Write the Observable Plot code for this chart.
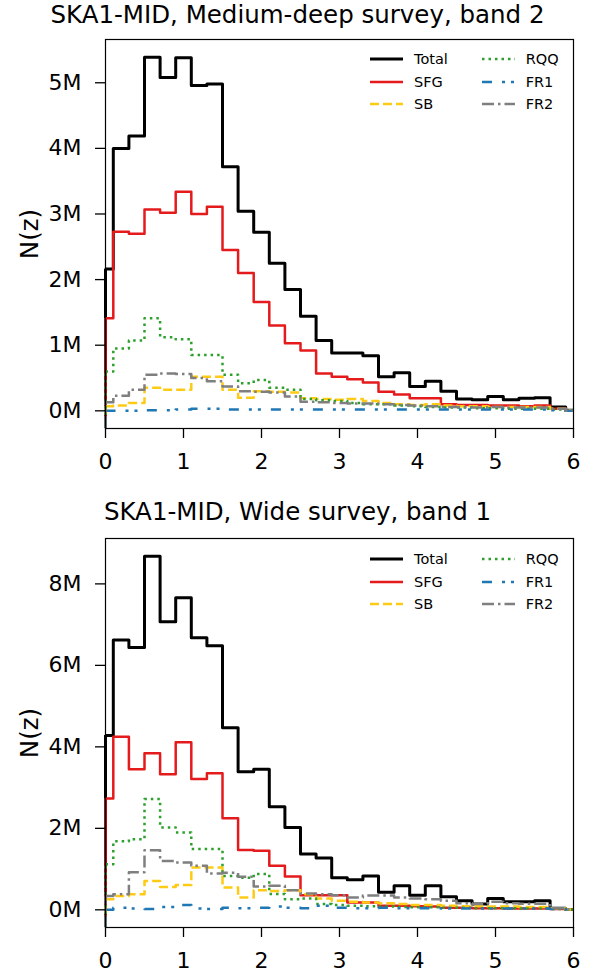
<!DOCTYPE html>
<html>
<head>
<meta charset="utf-8">
<script src="https://cdn.jsdelivr.net/npm/d3@7"></script>
<script src="https://cdn.jsdelivr.net/npm/@observablehq/plot@0.6"></script>
<style>
  html, body { margin: 0; padding: 0; background: #fff; }
  #root { position: relative; width: 595px; height: 972px; overflow: hidden; font-family: "DejaVu Sans", sans-serif; color: #000; }
  .title { position: absolute; left: 0; width: 595px; text-align: center; font-size: 24.5px; line-height: 1.2; white-space: nowrap; }
  .panel { position: absolute; left: 0; }
  .leg-line { position: absolute; }
  .leg-label { position: absolute; font-size: 14.5px; line-height: 14.5px; white-space: nowrap; }
</style>
</head>
<body>
<div id="root"></div>
<script>
// ---------- data (N(z) in millions) ----------
const z = [0, 0.2, 0.4, 0.6, 0.8, 1.0, 1.2, 1.4, 1.6, 1.8, 2.0, 2.2, 2.4, 2.6, 2.8, 3.0,
           3.2, 3.4, 3.6, 3.8, 4.0, 4.2, 4.4, 4.6, 4.8, 5.0, 5.2, 5.4, 5.6, 5.8, 6.0];
const seriesNames = ["Total", "SFG", "SB", "RQQ", "FR1", "FR2"];
const titles = ["SKA1-MID, Medium-deep survey, band 2", "SKA1-MID, Wide survey, band 1"];
const xTicks = [0, 1, 2, 3, 4, 5, 6];
const yTicksMedium = [0, 1, 2, 3, 4, 5];
const yTicksWide = [0, 2, 4, 6, 8];
const yLabel = "N(z)";

// Medium-deep survey, band 2
const mdTotal = [2.16, 4.00, 4.19, 5.39, 5.08, 5.38, 4.96, 4.98, 3.72, 3.04, 2.72, 2.25, 1.85, 1.44, 1.07, 0.88,
                 0.88, 0.84, 0.52, 0.58, 0.37, 0.45, 0.30, 0.18, 0.17, 0.22, 0.17, 0.19, 0.20, 0.06, 0.01];
const mdSFG   = [1.41, 2.73, 2.70, 3.07, 3.02, 3.34, 3.00, 3.11, 2.45, 2.10, 1.66, 1.30, 1.03, 0.92, 0.57, 0.52,
                 0.48, 0.43, 0.29, 0.25, 0.19, 0.19, 0.10, 0.09, 0.09, 0.08, 0.08, 0.07, 0.08, 0.03, 0.01];
const mdSB    = [0.07, 0.08, 0.12, 0.35, 0.32, 0.32, 0.52, 0.52, 0.32, 0.20, 0.30, 0.29, 0.28, 0.19, 0.18, 0.17,
                 0.18, 0.15, 0.12, 0.10, 0.09, 0.10, 0.08, 0.07, 0.07, 0.06, 0.06, 0.06, 0.06, 0.03, 0.01];
const mdRQQ   = [0.60, 0.95, 1.07, 1.41, 1.12, 1.09, 0.85, 0.85, 0.55, 0.42, 0.47, 0.35, 0.32, 0.18, 0.16, 0.15,
                 0.12, 0.10, 0.10, 0.08, 0.07, 0.06, 0.05, 0.05, 0.04, 0.04, 0.03, 0.03, 0.03, 0.02, 0.01];
const mdFR1   = [0.00, 0.00, 0.00, 0.01, 0.01, 0.02, 0.03, 0.03, 0.02, 0.02, 0.02, 0.02, 0.02, 0.02, 0.02, 0.02,
                 0.02, 0.02, 0.02, 0.02, 0.02, 0.02, 0.02, 0.02, 0.02, 0.02, 0.02, 0.02, 0.02, 0.01, 0.00];
const mdFR2   = [0.13, 0.23, 0.32, 0.55, 0.57, 0.56, 0.50, 0.45, 0.37, 0.30, 0.29, 0.28, 0.22, 0.14, 0.13, 0.12,
                 0.11, 0.11, 0.10, 0.09, 0.08, 0.07, 0.06, 0.06, 0.05, 0.06, 0.05, 0.05, 0.05, 0.03, 0.00];

// Wide survey, band 1
const wTotal = [4.28, 6.62, 6.44, 8.68, 7.07, 7.66, 6.68, 6.48, 4.47, 3.39, 3.45, 2.53, 2.02, 1.37, 1.27, 0.79,
                0.74, 0.83, 0.43, 0.59, 0.36, 0.59, 0.32, 0.22, 0.14, 0.28, 0.20, 0.20, 0.22, 0.04, 0.01];
const wSFG   = [2.73, 4.25, 3.45, 3.84, 3.33, 4.11, 3.21, 3.35, 2.25, 1.47, 1.45, 1.08, 0.82, 0.36, 0.36, 0.36,
                0.18, 0.18, 0.10, 0.10, 0.09, 0.08, 0.05, 0.05, 0.04, 0.04, 0.03, 0.03, 0.03, 0.02, 0.01];
const wSB    = [0.26, 0.34, 0.38, 0.71, 0.56, 0.61, 1.04, 1.04, 0.55, 0.30, 0.48, 0.46, 0.48, 0.38, 0.28, 0.22,
                0.20, 0.18, 0.16, 0.14, 0.12, 0.12, 0.10, 0.09, 0.09, 0.08, 0.08, 0.07, 0.07, 0.04, 0.01];
const wRQQ   = [1.12, 1.68, 1.73, 2.72, 2.02, 1.90, 1.49, 1.49, 0.83, 0.79, 0.88, 0.39, 0.26, 0.28, 0.14, 0.12,
                0.10, 0.09, 0.08, 0.07, 0.06, 0.06, 0.05, 0.05, 0.04, 0.04, 0.04, 0.03, 0.03, 0.02, 0.01];
const wFR1   = [0.00, 0.05, 0.03, 0.02, 0.07, 0.12, 0.03, 0.02, 0.05, 0.04, 0.05, 0.08, 0.05, 0.04, 0.10, 0.05,
                0.04, 0.04, 0.05, 0.04, 0.04, 0.04, 0.03, 0.03, 0.03, 0.03, 0.03, 0.03, 0.03, 0.02, 0.01];
const wFR2   = [0.34, 0.38, 0.92, 1.46, 1.20, 1.16, 1.08, 0.89, 0.91, 0.81, 0.57, 0.59, 0.48, 0.40, 0.38, 0.36,
                0.30, 0.35, 0.35, 0.30, 0.28, 0.26, 0.22, 0.16, 0.14, 0.20, 0.16, 0.15, 0.15, 0.04, 0.01];

// ---------- styles ----------
const styles = {
  Total: {stroke: "#000000", w: 3.0, dash: null},
  SFG:   {stroke: "#e41a1c", w: 2.5, dash: null},
  SB:    {stroke: "#fdcb16", w: 2.5, dash: "9,4"},
  RQQ:   {stroke: "#2ca02c", w: 2.5, dash: "2.5,4"},
  FR1:   {stroke: "#1f77b4", w: 2.5, dash: "10,10,3,6,3,10"},
  FR2:   {stroke: "#7f7f7f", w: 2.5, dash: "12,4,2.5,4"}
};

const root = document.getElementById("root");

function makePanel(values, yTicks, opts) {
  const rows = [];
  seriesNames.forEach((s, i) => values[i].forEach((v, j) => rows.push({s, z: z[j], v})));
  const max = d3.max(rows, d => d.v);
  const lo = -0.05 * max, hi = 1.05 * max;
  const marks = [];
  seriesNames.forEach((s, i) => {
    const st = styles[s];
    const common = {stroke: st.stroke, strokeWidth: st.w, strokeDasharray: st.dash, strokeLinecap: "butt", strokeLinejoin: "round"};
    marks.push(Plot.ruleX([{v0: values[i][0]}], {x: () => 0, y1: () => lo, y2: "v0", ...common}));
    marks.push(Plot.line(rows.filter(d => d.s === s), {x: "z", y: "v", curve: "step", ...common}));
  });
  marks.push(Plot.frame({stroke: "#000", strokeWidth: 1.2}));
  marks.push(Plot.axisY(yTicks, {tickSize: 10, tickPadding: 14, fontSize: 22, strokeWidth: 1.3, tickFormat: d => d + "M", label: null}));
  marks.push(Plot.axisX(xTicks, {tickSize: 10, tickPadding: 15, fontSize: 22, strokeWidth: 1.3, tickFormat: d => String(d), label: null}));
  marks.push(Plot.text([yLabel], {frameAnchor: "left", dx: -75, rotate: -90, fontSize: 24.5, textAnchor: "middle", lineAnchor: "middle", text: d => d}));
  const svg = Plot.plot({
    width: 595,
    height: opts.height,
    marginLeft: 105,
    marginRight: 22,
    marginTop: opts.marginTop,
    marginBottom: opts.marginBottom,
    x: {domain: [0, 6]},
    y: {domain: [lo, hi]},
    style: {fontFamily: "DejaVu Sans", fontSize: "22px", color: "#000", background: "transparent", overflow: "visible"},
    marks
  });
  svg.classList.add("panel");
  svg.style.top = opts.top + "px";
  root.appendChild(svg);

  // title
  const t = document.createElement("div");
  t.className = "title";
  t.style.top = opts.titleTop + "px";
  t.textContent = opts.title;
  root.appendChild(t);

  // legend
  seriesNames.forEach((s, i) => {
    const st = styles[s];
    const col = i < 3 ? 0 : 1, row = i % 3;
    const cy = opts.top + 59 + row * 22.7;
    const lx = col === 0 ? 370 : 481.7;
    const tx = col === 0 ? 414 : 525.7;
    const ns = "http://www.w3.org/2000/svg";
    const ls = document.createElementNS(ns, "svg");
    ls.setAttribute("width", 34); ls.setAttribute("height", 8);
    ls.setAttribute("class", "leg-line");
    ls.style.left = lx + "px"; ls.style.top = (cy - 4) + "px";
    const ln = document.createElementNS(ns, "line");
    ln.setAttribute("x1", 0); ln.setAttribute("x2", 33); ln.setAttribute("y1", 4); ln.setAttribute("y2", 4);
    ln.setAttribute("stroke", st.stroke); ln.setAttribute("stroke-width", st.w);
    if (st.dash) ln.setAttribute("stroke-dasharray", st.dash);
    ls.appendChild(ln);
    root.appendChild(ls);
    const lb = document.createElement("div");
    lb.className = "leg-label";
    lb.style.left = tx + "px"; lb.style.top = (cy - 7) + "px";
    lb.textContent = s;
    root.appendChild(lb);
  });
}

makePanel([mdTotal, mdSFG, mdSB, mdRQQ, mdFR1, mdFR2], yTicksMedium,
  {top: 0, height: 480, marginTop: 39, marginBottom: 52, titleTop: 0, title: titles[0]});
makePanel([wTotal, wSFG, wSB, wRQQ, wFR1, wFR2], yTicksWide,
  {top: 500, height: 472, marginTop: 38, marginBottom: 45, titleTop: 497, title: titles[1]});
</script>
</body>
</html>
